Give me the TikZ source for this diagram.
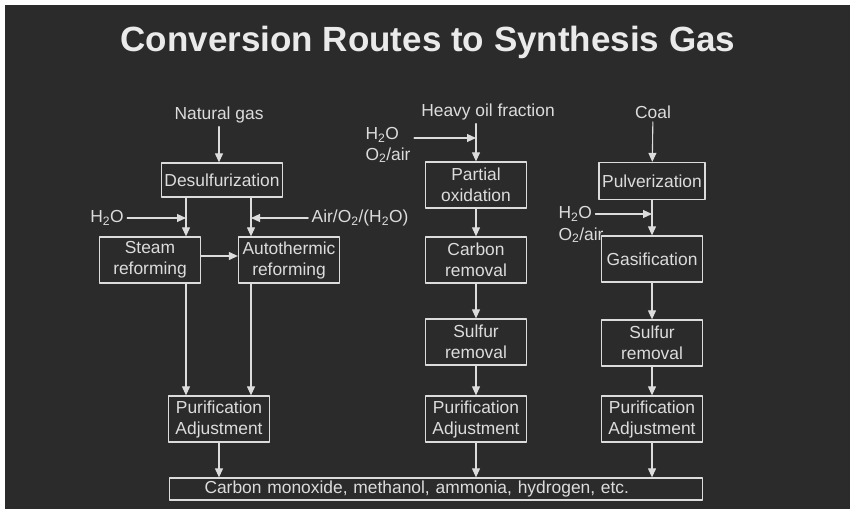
\documentclass[tikz,border=0pt]{standalone}
\usepackage{fontspec}
\setmainfont{Liberation Sans}
\usetikzlibrary{arrows.meta}
\definecolor{slate}{HTML}{2B2B2B}
\definecolor{chalk}{HTML}{DCDCDC}

\begin{document}
\begin{tikzpicture}[line join=round, line cap=round, x=1pt, y=-1pt,
    every node/.style={text=chalk, font=\fontsize{17.4}{21}\selectfont},
    box/.style={draw=chalk, line width=1.3pt, align=center, inner sep=2pt,
                minimum width=101pt, minimum height=46pt},
    flow/.style={draw=chalk, line width=1.1pt, -{Triangle[length=9pt, width=8pt]}}]
            \useasboundingbox (0,0) rectangle (850,509);
            \fill[white] (0,0) rectangle (850,509);
            \fill[slate] (5,5) rectangle (850,509);

            \node[font=\bfseries\fontsize{35}{40}\selectfont, text=chalk!60!white] (title) at (428,42) {Conversion Routes to Synthesis Gas};

            % feeds
            \node (natgas) at (219,115) {Natural gas};
            \node (heavy) at (488,112) {Heavy oil fraction};
            \node (coal) at (653,112) {Coal};

            % natural gas route
            \node[box, minimum width=121pt, minimum height=34pt] (desulf) at (222,180) {Desulfurization};
            \node[box] (steam) at (150,260) {Steam\\reforming};
            \node[box] (auto) at (289,260) {Autothermic\\reforming};
            \node[box] (purL) at (219,419) {Purification\\Adjustment};
            \node (h2oL) at (107,218) {H\textsubscript{2}O};
            \node (airA) at (360,218) {Air/O\textsubscript{2}/(H\textsubscript{2}O)};

            % heavy oil route
            \node[box] (pox) at (476,185) {Partial\\oxidation};
            \node[box] (carb) at (476,260) {Carbon\\removal};
            \node[box] (sulM) at (476,342) {Sulfur\\removal};
            \node[box] (purM) at (476,419) {Purification\\Adjustment};
            \node[anchor=west] (h2oM) at (362,135) {H\textsubscript{2}O};
            \node[anchor=west] (o2M) at (362,155) {O\textsubscript{2}/air};

            % coal route
            \node[box, minimum width=106pt, minimum height=37pt] (pulv) at (652,181) {Pulverization};
            \node[box] (gas) at (652,259) {Gasification};
            \node[box] (sulR) at (652,343) {Sulfur\\removal};
            \node[box] (purR) at (652,419) {Purification\\Adjustment};
            \node[anchor=west] (h2oR) at (555,214) {H\textsubscript{2}O};
            \node[anchor=west] (o2R) at (555,235) {O\textsubscript{2}/air};

            \node[box, minimum width=533pt, minimum height=22pt, inner sep=0pt,
                  text width=533pt, align=left] (prod) at (436,489)
                  {\hspace*{35pt}Carbon monoxide, methanol, ammonia, hydrogen, etc.};

            \coordinate (jL) at (186,218);
            \coordinate (jA) at (251,218);
            \coordinate (jM) at (476,138);
            \coordinate (jR) at (652,214);

            \draw[flow] (natgas.south) -- (natgas.south |- desulf.north);
            \draw[flow] (desulf.south -| jL) -- (steam.north -| jL);
            \draw[flow] (desulf.south -| jA) -- (auto.north -| jA);
            \draw[flow] (h2oL) -- (jL);
            \draw[flow] (airA) -- (jA);
            \draw[flow] (steam.east |- 0,256) -- (auto.west |- 0,256);
            \draw[flow] (steam.south -| jL) -- (purL.north -| jL);
            \draw[flow] (auto.south -| jA) -- (purL.north -| jA);

            \draw[flow] (heavy.south -| jM) -- (pox.north);
            \draw[flow] (o2M.east |- jM) -- (jM);
            \draw[flow] (pox) -- (carb);
            \draw[flow] (carb) -- (sulM);
            \draw[flow] (sulM) -- (purM);

            \draw[flow] (coal) -- (pulv);
            \draw[flow] (pulv) -- (gas);
            \draw[flow] (h2oR) -- (jR);
            \draw[flow] (gas) -- (sulR);
            \draw[flow] (sulR) -- (purR);

            \draw[flow] (purL) -- (purL |- prod.north);
            \draw[flow] (purM) -- (purM |- prod.north);
            \draw[flow] (purR) -- (purR |- prod.north);
        \end{tikzpicture}
\end{document}
